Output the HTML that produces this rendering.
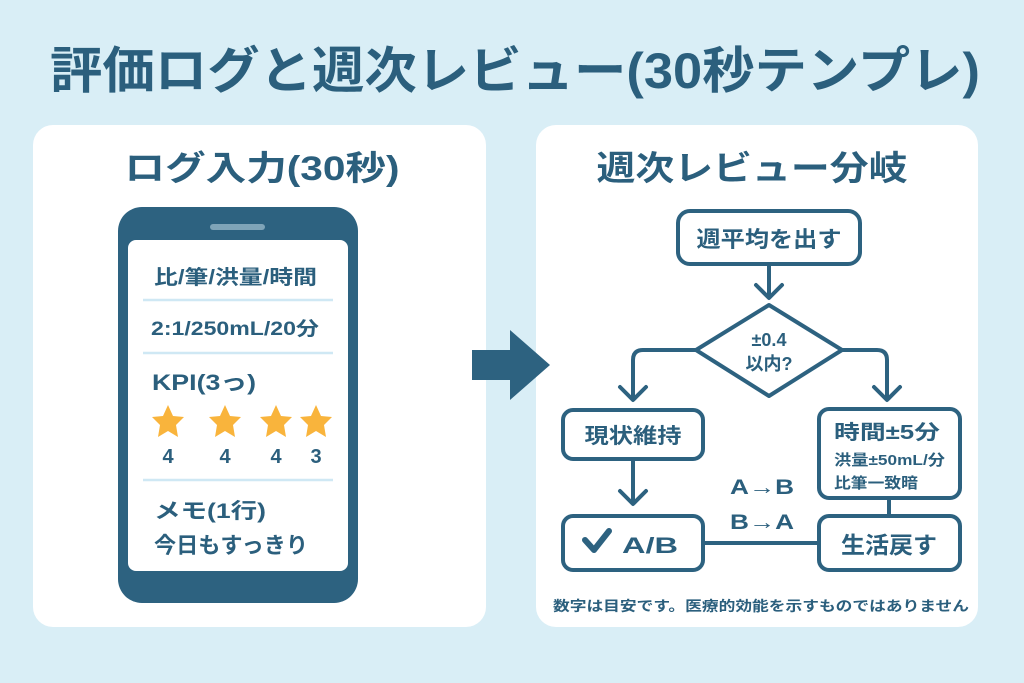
<!DOCTYPE html>
<html><head><meta charset="utf-8"><style>
html,body{margin:0;padding:0;background:#d9eef6;}
svg{display:block;}
text{font-family:"Liberation Sans","Noto Sans CJK JP",sans-serif;font-weight:bold;fill:#2b5f7d;}
</style></head><body>
<svg width="1024" height="683" viewBox="0 0 1024 683" xmlns="http://www.w3.org/2000/svg">
<rect width="1024" height="683" fill="#d9eef6"/>
<text x="515" y="88" font-size="50" text-anchor="middle" textLength="930" lengthAdjust="spacingAndGlyphs">評価ログと週次レビュー(30秒テンプレ)</text>
<rect x="33" y="125" width="453" height="502" rx="20" fill="#fff"/>
<rect x="536" y="125" width="442" height="502" rx="20" fill="#fff"/>
<text x="262" y="180" font-size="34" text-anchor="middle" textLength="275" lengthAdjust="spacingAndGlyphs">ログ入力(30秒)</text>
<text x="752" y="180" font-size="34" text-anchor="middle" textLength="311" lengthAdjust="spacingAndGlyphs">週次レビュー分岐</text>
<!-- phone -->
<rect x="118" y="207" width="240" height="396" rx="24" fill="#2d6280"/>
<rect x="210" y="224" width="55" height="6" rx="3" fill="#7fa4b8"/>
<rect x="128" y="240" width="220" height="331" rx="8" fill="#fff"/>
<g stroke="#cfe8f4" stroke-width="2.5"><line x1="143" y1="300" x2="333" y2="300"/><line x1="143" y1="353" x2="333" y2="353"/><line x1="143" y1="480" x2="333" y2="480"/></g>
<text x="154" y="284" font-size="20" textLength="163" lengthAdjust="spacingAndGlyphs">比/筆/洪量/時間</text>
<text x="151" y="335" font-size="19" textLength="168" lengthAdjust="spacingAndGlyphs">2:1/250mL/20分</text>
<text x="152" y="390" font-size="22" textLength="104" lengthAdjust="spacingAndGlyphs">KPI(3っ)</text>
<g fill="#f9b43c">
<polygon id="st" points="0,-17 5,-6 16,-5 8,3 10,15 0,9 -10,15 -8,3 -16,-5 -5,-6" transform="translate(168,422)"/>
<polygon points="0,-17 5,-6 16,-5 8,3 10,15 0,9 -10,15 -8,3 -16,-5 -5,-6" transform="translate(225,422)"/>
<polygon points="0,-17 5,-6 16,-5 8,3 10,15 0,9 -10,15 -8,3 -16,-5 -5,-6" transform="translate(276,422)"/>
<polygon points="0,-17 5,-6 16,-5 8,3 10,15 0,9 -10,15 -8,3 -16,-5 -5,-6" transform="translate(316,422)"/>
</g>
<g font-size="20" text-anchor="middle"><text x="168" y="463">4</text><text x="225" y="463">4</text><text x="276" y="463">4</text><text x="316" y="463">3</text></g>
<text x="154" y="518" font-size="21" textLength="112" lengthAdjust="spacingAndGlyphs">メモ(1行)</text>
<text x="154" y="553" font-size="22" textLength="154" lengthAdjust="spacingAndGlyphs">今日もすっきり</text>
<!-- big arrow -->
<polygon points="472,350 510,350 510,330 550,365 510,400 510,380 472,380" fill="#2d6280"/>
<!-- flow -->
<g fill="none" stroke="#2d6280" stroke-width="4" stroke-linejoin="round" stroke-linecap="round">
<rect x="678" y="211" width="182" height="53" rx="12" fill="#fff"/>
<line x1="769" y1="264" x2="769" y2="296"/><polyline points="756,285 769,298 782,285"/>
<polygon points="769,305 842,350 769,396 696,350" fill="#fff"/>
<path d="M696,350 H643 Q633,350 633,360 V398"/><polyline points="620,387 633,400 646,387"/>
<path d="M842,350 H877 Q887,350 887,360 V398"/><polyline points="874,387 887,400 900,387"/>
<rect x="563" y="410" width="140" height="49" rx="10" fill="#fff"/>
<line x1="633" y1="459" x2="633" y2="502"/><polyline points="620,491 633,504 646,491"/>
<rect x="563" y="516" width="140" height="54" rx="10" fill="#fff"/>
<rect x="819" y="409" width="141" height="89" rx="10" fill="#fff"/>
<line x1="889" y1="498" x2="889" y2="516"/>
<rect x="819" y="516" width="141" height="54" rx="10" fill="#fff"/>
<line x1="703" y1="543" x2="819" y2="543"/>
</g>
<text x="769" y="247" font-size="22" text-anchor="middle" textLength="145" lengthAdjust="spacingAndGlyphs">週平均を出す</text>
<text x="769" y="346" font-size="18" text-anchor="middle">±0.4</text>
<text x="769" y="370" font-size="18" text-anchor="middle">以内?</text>
<text x="633" y="443" font-size="21" text-anchor="middle" textLength="97" lengthAdjust="spacingAndGlyphs">現状維持</text>
<polyline points="585,540 594,550 609,531" fill="none" stroke="#2d6280" stroke-width="6" stroke-linecap="round" stroke-linejoin="round"/>
<text x="622" y="553" font-size="22" textLength="56" lengthAdjust="spacingAndGlyphs">A/B</text>
<text x="834" y="439" font-size="20" textLength="106" lengthAdjust="spacingAndGlyphs">時間±5分</text>
<text x="834" y="465" font-size="15" textLength="111" lengthAdjust="spacingAndGlyphs">洪量±50mL/分</text>
<text x="834" y="488" font-size="15" textLength="84" lengthAdjust="spacingAndGlyphs">比筆一致暗</text>
<text x="889" y="553" font-size="23" text-anchor="middle" textLength="96" lengthAdjust="spacingAndGlyphs">生活戻す</text>
<text x="762" y="494" font-size="21" text-anchor="middle" textLength="64" lengthAdjust="spacingAndGlyphs">A→B</text>
<text x="762" y="529" font-size="21" text-anchor="middle" textLength="64" lengthAdjust="spacingAndGlyphs">B→A</text>
<text x="553" y="611" font-size="14" textLength="416" lengthAdjust="spacingAndGlyphs">数字は目安です。医療的効能を示すものではありません</text>
</svg>
</body></html>
